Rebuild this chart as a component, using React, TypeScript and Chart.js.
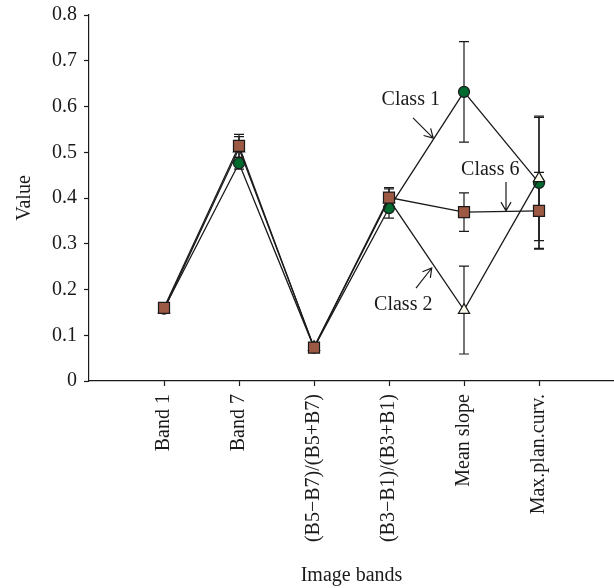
import React, { useEffect, useRef } from "react";
import { Chart, registerables } from "chart.js";

Chart.register(...registerables);

const categories = ["Band 1", "Band 7", "(B5−B7)/(B5+B7)", "(B3−B1)/(B3+B1)", "Mean slope", "Max.plan.curv."];
const xPositions = [1, 2, 3, 4, 5, 6];

const class1Values = [0.158, 0.476, 0.073, 0.378, 0.632, 0.433];
const class1Errors = [0.003, 0.013, 0.003, 0.022, 0.11, 0.143];
const class2Values = [0.156, 0.508, 0.074, 0.397, 0.155, 0.443];
const class2Errors = [0.003, 0.026, 0.003, 0.023, 0.096, 0.136];
const class6Values = [0.16, 0.514, 0.073, 0.401, 0.369, 0.372];
const class6Errors = [0.003, 0.025, 0.003, 0.022, 0.042, 0.084];

const yTicks = [0, 0.1, 0.2, 0.3, 0.4, 0.5, 0.6, 0.7, 0.8];

// annotation labels in data units
const noteTexts = ["Class 1", "Class 6", "Class 2"];
const noteX = [4.29, 5.35, 4.19];
const noteY = [0.614, 0.461, 0.166];
// arrows: from (x0,y0) to head (x1,y1)
const arrowX0 = [4.32, 5.56, 4.36];
const arrowY0 = [0.575, 0.435, 0.203];
const arrowX1 = [4.59, 5.56, 4.57];
const arrowY1 = [0.531, 0.372, 0.247];

const FONT = "'Liberation Serif', 'Times New Roman', serif";
const FS = 20;
const INK = "#1a1a1a";

const errorBarPlugin = {
  id: "errorBars",
  beforeDatasetsDraw(chart: any) {
    const { ctx, scales } = chart;
    const xs = scales.x;
    const ys = scales.y;
    ctx.save();
    ctx.strokeStyle = INK;
    ctx.lineWidth = 1.2;
    chart.data.datasets.forEach((ds: any) => {
      const errs: number[] = ds.errors;
      ds.data.forEach((pt: any, i: number) => {
        const px = xs.getPixelForValue(pt.x);
        const top = ys.getPixelForValue(pt.y + errs[i]);
        const bot = ys.getPixelForValue(pt.y - errs[i]);
        ctx.beginPath();
        ctx.moveTo(px, top);
        ctx.lineTo(px, bot);
        ctx.moveTo(px - 5, top);
        ctx.lineTo(px + 5, top);
        ctx.moveTo(px - 5, bot);
        ctx.lineTo(px + 5, bot);
        ctx.stroke();
      });
    });
    ctx.restore();
  },
  afterDraw(chart: any) {
    const { ctx, scales } = chart;
    const xs = scales.x;
    const ys = scales.y;
    ctx.save();
    ctx.fillStyle = INK;
    ctx.font = `${FS}px ${FONT}`;
    ctx.textAlign = "center";
    ctx.textBaseline = "middle";
    noteTexts.forEach((t, i) => {
      ctx.fillText(t, xs.getPixelForValue(noteX[i]), ys.getPixelForValue(noteY[i]));
    });
    ctx.strokeStyle = INK;
    ctx.lineWidth = 1.2;
    noteTexts.forEach((_, i) => {
      const x0 = xs.getPixelForValue(arrowX0[i]);
      const y0 = ys.getPixelForValue(arrowY0[i]);
      const x1 = xs.getPixelForValue(arrowX1[i]);
      const y1 = ys.getPixelForValue(arrowY1[i]);
      const ang = Math.atan2(y1 - y0, x1 - x0);
      const hl = 10;
      const ha = Math.PI / 6;
      ctx.beginPath();
      ctx.moveTo(x0, y0);
      ctx.lineTo(x1, y1);
      ctx.moveTo(x1 - hl * Math.cos(ang - ha), y1 - hl * Math.sin(ang - ha));
      ctx.lineTo(x1, y1);
      ctx.lineTo(x1 - hl * Math.cos(ang + ha), y1 - hl * Math.sin(ang + ha));
      ctx.stroke();
    });
    ctx.restore();
  },
};

export default function App() {
  const ref = useRef<HTMLCanvasElement | null>(null);
  useEffect(() => {
    if (!ref.current) return;
    const mk = (vals: number[]) => vals.map((v, i) => ({ x: xPositions[i], y: v }));
    const chart = new Chart(ref.current, {
      type: "line",
      data: {
        datasets: [
          {
            label: "Class 6",
            data: mk(class6Values),
            errors: class6Errors,
            borderColor: INK,
            borderWidth: 1.3,
            pointStyle: "rect",
            pointRadius: 7.8,
            pointBackgroundColor: "#9c5944",
            pointBorderColor: INK,
            pointBorderWidth: 1.2,
            tension: 0,
          } as any,
          {
            label: "Class 2",
            data: mk(class2Values),
            errors: class2Errors,
            borderColor: INK,
            borderWidth: 1.3,
            pointStyle: "triangle",
            pointRadius: 6.5,
            pointBackgroundColor: "#fdfbec",
            pointBorderColor: INK,
            pointBorderWidth: 1.2,
            tension: 0,
          } as any,
          {
            label: "Class 1",
            data: mk(class1Values),
            errors: class1Errors,
            borderColor: INK,
            borderWidth: 1.3,
            pointStyle: "circle",
            pointRadius: 5.5,
            pointBackgroundColor: "#006a2e",
            pointBorderColor: INK,
            pointBorderWidth: 1.2,
            tension: 0,
          } as any,
        ],
      },
      options: {
        animation: false,
        responsive: false,
        maintainAspectRatio: false,
        layout: { autoPadding: false, padding: { top: 15, right: 0, left: 0, bottom: 0 } },
        plugins: { legend: { display: false }, tooltip: { enabled: false } },
        scales: {
          x: {
            type: "linear",
            min: 0,
            max: 7,
            afterBuildTicks: (scale: any) => {
              scale.ticks = xPositions.map((v) => ({ value: v }));
            },
            afterFit: (scale: any) => {
              scale.height = 207;
              scale.paddingLeft = 0;
              scale.paddingRight = 0;
            },
            ticks: {
              autoSkip: false,
              minRotation: 90,
              maxRotation: 90,
              padding: 8,
              color: INK,
              font: { family: FONT, size: FS },
              callback: (v: any) => categories[xPositions.indexOf(Number(v))] ?? "",
            },
            grid: { drawOnChartArea: false, drawTicks: true, tickLength: 5, tickColor: INK, tickWidth: 1.2 },
            border: { display: true, color: INK, width: 1.2 },
            title: { display: true, text: "Image bands", color: INK, font: { family: FONT, size: FS }, padding: { top: 0, bottom: 0 } },
          },
          y: {
            type: "linear",
            min: 0,
            max: 0.8,
            afterBuildTicks: (scale: any) => {
              scale.ticks = yTicks.map((v) => ({ value: v }));
            },
            afterFit: (scale: any) => {
              scale.width = 89;
              scale.paddingTop = 0;
              scale.paddingBottom = 0;
            },
            ticks: {
              padding: 7,
              color: INK,
              font: { family: FONT, size: FS },
              callback: (v: any) => String(Number(Number(v).toFixed(1))),
            },
            grid: { drawOnChartArea: false, drawTicks: true, tickLength: 5, tickColor: INK, tickWidth: 1.2 },
            border: { display: true, color: INK, width: 1.2 },
            title: { display: true, text: "Value", color: INK, font: { family: FONT, size: FS }, padding: { top: 13, bottom: 0 } },
          },
        },
      } as any,
      plugins: [errorBarPlugin],
    });
    return () => chart.destroy();
  }, []);
  return (
    <div style={{ position: "absolute", left: 0, top: 0, width: 614, height: 588, background: "#fff" }}>
      <canvas ref={ref} width={614} height={588} style={{ width: 614, height: 588 }} />
    </div>
  );
}
